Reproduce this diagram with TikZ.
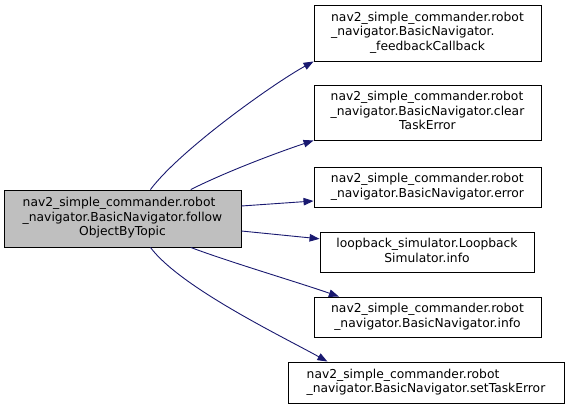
\documentclass[tikz,border=0pt]{standalone}
\usepackage{fontspec}
\setmainfont{DejaVu Sans}
\usetikzlibrary{arrows.meta}
\definecolor{edgeblue}{HTML}{191970}
\definecolor{maingrey}{HTML}{BFBFBF}
\newcommand\lbl[2]{\begin{tabular}{@{}l@{}}#1\\\multicolumn{1}{@{}c@{}}{#2}\end{tabular}}
\tikzset{
  box/.style={draw=black, line width=0.9pt, fill=white, inner sep=0pt, rectangle,
    font=\fontsize{12.3}{14.5}\selectfont},
  mainbox/.style={box, fill=maingrey},
  edge/.style={draw=edgeblue, line width=0.9pt, -{Triangle[length=10pt,width=7.5pt]}}
}
\begin{document}
\begin{tikzpicture}[x=1pt,y=-1pt]
\useasboundingbox (0,0) rectangle (571,409);
\node[mainbox, minimum width=237, minimum height=57] (m) at (122.5,218.5)
  {\lbl{nav2\_simple\_commander.robot\\\_navigator.BasicNavigator.follow}{ObjectByTopic}};
\node[box, minimum width=227, minimum height=56] (n1) at (427.5,33)
  {\lbl{nav2\_simple\_commander.robot\\\_navigator.BasicNavigator.}{\_feedbackCallback}};
\node[box, minimum width=227, minimum height=55] (n2) at (427.5,112.5)
  {\lbl{nav2\_simple\_commander.robot\\\_navigator.BasicNavigator.clear}{TaskError}};
\node[box, minimum width=227, minimum height=40] (n3) at (427.5,187)
  {\lbl{nav2\_simple\_commander.robot}{\_navigator.BasicNavigator.error}};
\node[box, minimum width=214, minimum height=40] (n4) at (427,252)
  {\lbl{loopback\_simulator.Loopback}{Simulator.info}};
\node[box, minimum width=227, minimum height=40] (n5) at (427.5,317)
  {\lbl{nav2\_simple\_commander.robot}{\_navigator.BasicNavigator.info}};
\node[box, minimum width=276, minimum height=41] (n6) at (426,382.5)
  {\lbl{nav2\_simple\_commander.robot}{\_navigator.BasicNavigator.setTaskError}};
\draw[edge] (m.46) .. controls +(30,-40) and +(-40,22) .. (n1.south west);
\draw[edge] (m.23.5) .. controls +(40,-20) and +(-30,10) .. (n2.south west);
\draw[edge] (m.6) -- (n3.187.5);
\draw[edge] (m.-6.5) -- (n4.173.6);
\draw[edge] (m.-23.5) .. controls +(40,15) and +(-40,-14) .. (n5.167.5);
\draw[edge] (m.-46) .. controls +(30,40) and +(-45,-25) .. (n6.168.2);
\end{tikzpicture}
\end{document}
